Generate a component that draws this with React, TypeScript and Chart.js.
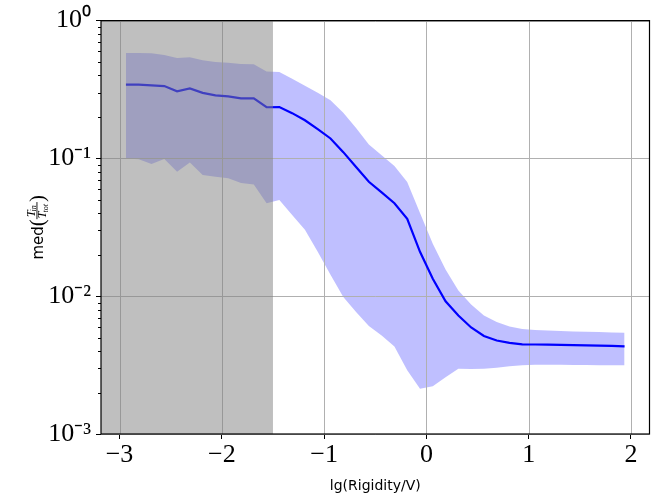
import React, { useEffect, useRef } from "react";
import { Chart, registerables } from "chart.js";

Chart.register(...registerables);

// Bin centres of lg(Rigidity/V)
const xValues = [
  -2.9375, -2.8125, -2.6875, -2.5625, -2.4375, -2.3125, -2.1875, -2.0625,
  -1.9375, -1.8125, -1.6875, -1.5625, -1.4375, -1.3125, -1.1875, -1.0625,
  -0.9375, -0.8125, -0.6875, -0.5625, -0.4375, -0.3125, -0.1875, -0.0625,
  0.0625, 0.1875, 0.3125, 0.4375, 0.5625, 0.6875, 0.8125, 0.9375,
  1.0625, 1.1875, 1.3125, 1.4375, 1.5625, 1.6875, 1.8125, 1.9375,
];

// Median of T_in / T_tot
const medianValues = [
  0.343, 0.343, 0.339, 0.335, 0.307, 0.322, 0.299, 0.287,
  0.282, 0.273, 0.273, 0.235, 0.236, 0.213, 0.189, 0.163,
  0.1395, 0.111, 0.0865, 0.0677, 0.0566, 0.0473, 0.0364, 0.021,
  0.0134, 0.00918, 0.00724, 0.00593, 0.00514, 0.00477, 0.00459, 0.00447,
  0.00446, 0.00445, 0.00444, 0.00442, 0.0044, 0.00438, 0.00436, 0.00433,
];

// Upper bound of the band
const upperValues = [
  0.582, 0.582, 0.58, 0.563, 0.536, 0.543, 0.516, 0.501,
  0.494, 0.485, 0.483, 0.428, 0.423, 0.378, 0.336, 0.299,
  0.264, 0.214, 0.166, 0.126, 0.1056, 0.088, 0.0674, 0.0402,
  0.024, 0.0156, 0.011, 0.00869, 0.00724, 0.0065, 0.00603, 0.00578,
  0.00569, 0.00564, 0.0056, 0.00555, 0.00552, 0.00549, 0.00545, 0.00543,
];

// Lower bound of the band
const lowerValues = [
  0.1, 0.0984, 0.0909, 0.0989, 0.08, 0.0935, 0.0757, 0.0736,
  0.0717, 0.0663, 0.0647, 0.0473, 0.05, 0.0389, 0.0303, 0.021,
  0.0143, 0.00985, 0.00767, 0.00608, 0.00519, 0.00432, 0.0029, 0.00213,
  0.00222, 0.00258, 0.00297, 0.00296, 0.00297, 0.00303, 0.0031, 0.00315,
  0.00318, 0.00318, 0.00318, 0.00317, 0.00317, 0.00316, 0.00316, 0.00316,
];

const xTicks = [-3, -2, -1, 0, 1, 2];
const yMajorTicks = [1e-3, 1e-2, 1e-1, 1];
const yTickLabels = ["10\u207B\u00B3", "10\u207B\u00B2", "10\u207B\u00B9", "10\u2070"];
const xRange = [-3.18125, 2.18125];
const yRange = [1e-3, 1];
const shadeRange = [-3.18125, -1.5];
const xLabel = "lg(Rigidity/V)";
// y label pieces: med( T_in / T_tot )
const yLabelPrefix = "med";
const yLabelNum = ["T", "in"];
const yLabelDen = ["T", "tot"];

export default function App() {
  const ref = useRef<HTMLCanvasElement>(null);

  useEffect(() => {
    const canvas = ref.current;
    if (!canvas) return;
    const pts = (ys: number[]) => xValues.map((x, i) => ({ x, y: ys[i] }));

    const minorTicks: number[] = [];
    yMajorTicks.slice(0, -1).forEach((m) => {
      for (let k = 2; k <= 9; k++) minorTicks.push(m * k);
    });

    const drawYTitle = (ctx: CanvasRenderingContext2D, cx: number, cy: number) => {
      const sans = "15px 'DejaVu Sans'";
      const paren = "21px 'Liberation Serif'";
      const it = "italic 12px 'Liberation Serif'";
      const itSub = "italic 8px 'Liberation Serif'";
      ctx.save();
      ctx.translate(cx, cy);
      ctx.rotate(-Math.PI / 2);
      ctx.fillStyle = "#000";
      ctx.textBaseline = "alphabetic";
      ctx.textAlign = "left";
      ctx.font = sans;
      const wMed = ctx.measureText(yLabelPrefix).width;
      ctx.font = paren;
      const wOpen = ctx.measureText("(").width;
      const wClose = ctx.measureText(")").width;
      ctx.font = it;
      const wNT = ctx.measureText(yLabelNum[0]).width;
      const wDT = ctx.measureText(yLabelDen[0]).width;
      ctx.font = itSub;
      const wNs = ctx.measureText(yLabelNum[1]).width;
      const wDs = ctx.measureText(yLabelDen[1]).width;
      const wNum = wNT + wNs;
      const wDen = wDT + wDs;
      const wFrac = Math.max(wNum, wDen) + 2;
      const total = wMed + wOpen + wFrac + wClose;
      let x = -total / 2;
      const base = 7;
      ctx.font = sans;
      ctx.fillText(yLabelPrefix, x, base);
      x += wMed;
      ctx.font = paren;
      ctx.fillText("(", x, base + 1);
      x += wOpen;
      const bar = 0.5;
      // numerator
      let nx = x + (wFrac - wNum) / 2;
      ctx.font = it;
      ctx.fillText(yLabelNum[0], nx, bar - 2);
      ctx.font = itSub;
      ctx.fillText(yLabelNum[1], nx + wNT - 1, bar - 0.5);
      // bar
      ctx.fillRect(x, bar, wFrac, 0.9);
      // denominator
      let dx = x + (wFrac - wDen) / 2;
      ctx.font = it;
      ctx.fillText(yLabelDen[0], dx, bar + 9.5);
      ctx.font = itSub;
      ctx.fillText(yLabelDen[1], dx + wDT - 1, bar + 11);
      x += wFrac;
      ctx.font = paren;
      ctx.fillText(")", x, base + 1);
      ctx.restore();
    };

    const decor = {
      id: "decor",
      beforeDatasetsDraw(chart: any) {
        const { ctx, chartArea: a, scales } = chart;
        ctx.save();
        ctx.strokeStyle = "#b0b0b0";
        ctx.lineWidth = 1;
        ctx.beginPath();
        xTicks.forEach((v) => {
          const px = Math.round(scales.x.getPixelForValue(v)) + 0.5;
          ctx.moveTo(px, a.top);
          ctx.lineTo(px, a.bottom);
        });
        yMajorTicks.forEach((v) => {
          const py = Math.round(scales.y.getPixelForValue(v)) + 0.5;
          ctx.moveTo(a.left, py);
          ctx.lineTo(a.right, py);
        });
        ctx.stroke();
        ctx.restore();
      },
      afterDatasetsDraw(chart: any) {
        const { ctx, chartArea: a, scales } = chart;
        const x0 = Math.max(a.left, scales.x.getPixelForValue(shadeRange[0]));
        const x1 = scales.x.getPixelForValue(shadeRange[1]);
        ctx.save();
        ctx.fillStyle = "rgba(128,128,128,0.5)";
        ctx.fillRect(x0, a.top, x1 - x0, a.bottom - a.top);
        ctx.restore();
      },
      afterDraw(chart: any) {
        const { ctx, chartArea: a, scales } = chart;
        ctx.save();
        ctx.strokeStyle = "#000";
        ctx.lineWidth = 1;
        ctx.beginPath();
        minorTicks.forEach((v) => {
          const py = Math.round(scales.y.getPixelForValue(v)) + 0.5;
          ctx.moveTo(a.left - 3, py);
          ctx.lineTo(a.left, py);
        });
        ctx.stroke();
        ctx.lineWidth = 1.2;
        ctx.strokeRect(a.left, a.top, a.right - a.left, a.bottom - a.top);
        ctx.restore();
        drawYTitle(ctx, 36, (a.top + a.bottom) / 2);
      },
    };

    const chart = new Chart(canvas, {
      type: "line",
      data: {
        datasets: [
          {
            label: "upper",
            data: pts(upperValues),
            fill: "+1",
            backgroundColor: "rgba(0,0,255,0.25)",
            borderWidth: 0,
            pointRadius: 0,
          },
          {
            label: "lower",
            data: pts(lowerValues),
            fill: false,
            borderWidth: 0,
            pointRadius: 0,
          },
          {
            label: "median",
            data: pts(medianValues),
            borderColor: "#0000ff",
            borderWidth: 2.2,
            pointRadius: 0,
            fill: false,
          },
        ],
      },
      options: {
        responsive: false,
        animation: false,
        layout: { padding: { left: 0, top: 20, right: 10.5, bottom: 0 } },
        plugins: {
          legend: { display: false },
          tooltip: { enabled: false },
          filler: { drawTime: "beforeDatasetsDraw" },
        } as any,
        scales: {
          x: {
            type: "linear",
            min: xRange[0],
            max: xRange[1],
            afterBuildTicks: (s: any) => {
              s.ticks = xTicks.map((v) => ({ value: v }));
            },
            afterFit: (s: any) => {
              s.height = 63;
            },
            grid: { color: "transparent", tickColor: "#000", tickLength: 5, drawTicks: true },
            border: { display: false },
            ticks: {
              autoSkip: false,
              maxRotation: 0,
              padding: 1,
              color: "#000",
              font: { family: "Liberation Serif", size: 26 },
              callback: (v: any) => (Number(v) < 0 ? "\u2212" + Math.abs(Number(v)) : String(v)),
            },
            title: {
              display: true,
              text: xLabel,
              color: "#000",
              font: { family: "DejaVu Sans", size: 14 },
              padding: { top: 0, bottom: 2 },
            },
          },
          y: {
            type: "logarithmic",
            min: yRange[0],
            max: yRange[1],
            afterBuildTicks: (s: any) => {
              s.ticks = yMajorTicks.map((v) => ({ value: v, major: true }));
            },
            afterFit: (s: any) => {
              s.width = 101;
            },
            grid: { color: "transparent", tickColor: "#000", tickLength: 5, drawTicks: true },
            border: { display: false },
            ticks: {
              autoSkip: false,
              padding: 5,
              color: "#000",
              font: { family: "Liberation Serif", size: 26 },
              callback: (v: any) => {
                const i = yMajorTicks.findIndex((m) => Math.abs(Math.log10(m) - Math.log10(Number(v))) < 1e-6);
                return i >= 0 ? yTickLabels[i] : "";
              },
            },
            title: { display: false },
          },
        },
      } as any,
      plugins: [decor],
    });

    return () => chart.destroy();
  }, []);

  return (
    <div style={{ position: "absolute", left: 0, top: 0, width: 660, height: 497, background: "#fff" }}>
      <canvas ref={ref} width={660} height={497} style={{ display: "block", width: 660, height: 497 }} />
    </div>
  );
}
